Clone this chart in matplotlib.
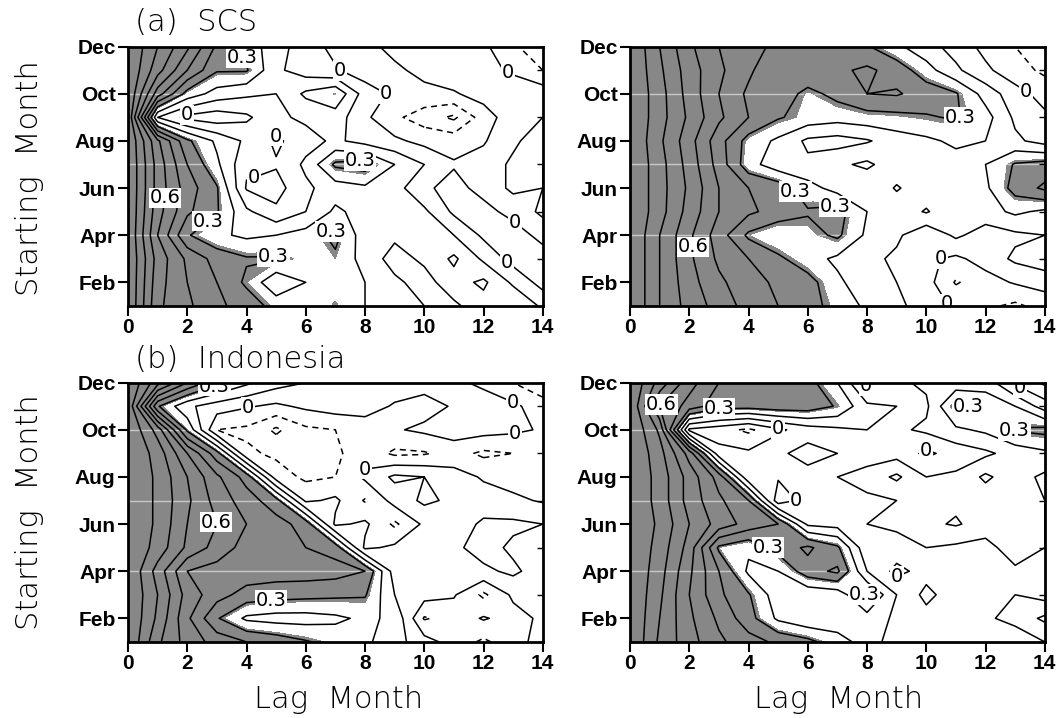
import numpy as np
import matplotlib
matplotlib.use('Agg')
import matplotlib.pyplot as plt

plt.rcParams['contour.negative_linestyle'] = 'dashed'
plt.rcParams['lines.dashed_pattern'] = [4.0, 3.0]

# lag (months) on x, starting month (Jan..Dec) on y
lags = list(range(15))
months = list(range(1, 13))
lag_ticks = [0, 2, 4, 6, 8, 10, 12, 14]
month_ticks = [2, 4, 6, 8, 10, 12]
month_names = ['Feb', 'Apr', 'Jun', 'Aug', 'Oct', 'Dec']
levels = [-0.3, -0.2, -0.1, 0.0, 0.1, 0.2, 0.3, 0.4, 0.5, 0.6, 0.7, 0.8, 0.9]
label_levels = [0.0, 0.3, 0.6]
shade_from = 0.28

# rows: Jan .. Dec ; columns: lag 0 .. 14
scs_left = [
    [1.00, 0.62, 0.52, 0.42, 0.36, 0.26, 0.22, 0.29, 0.20, 0.14, 0.10, 0.08, 0.16, 0.20, 0.08],
    [1.00, 0.64, 0.50, 0.40, 0.28, 0.12, 0.20, 0.24, 0.20, 0.12, 0.06, 0.16, 0.22, 0.08, -0.04],
    [1.00, 0.66, 0.48, 0.36, 0.31, 0.31, 0.26, 0.28, 0.16, 0.06, 0.12, 0.22, 0.08, -0.04, -0.06],
    [1.00, 0.60, 0.31, 0.22, 0.18, 0.20, 0.24, 0.33, 0.14, 0.12, 0.20, 0.10, -0.02, -0.06, 0.04],
    [1.00, 0.64, 0.42, 0.31, 0.12, 0.02, 0.10, 0.22, 0.16, 0.20, 0.12, -0.02, -0.04, 0.04, 0.12],
    [1.00, 0.66, 0.45, 0.31, -0.01, -0.04, 0.08, 0.15, 0.18, 0.14, 0.02, -0.04, 0.04, 0.12, 0.10],
    [1.00, 0.66, 0.40, 0.22, 0.02, 0.01, 0.12, 0.32, 0.35, 0.20, 0.10, 0.01, 0.04, 0.12, 0.10],
    [1.00, 0.62, 0.32, 0.18, 0.08, -0.02, 0.06, 0.12, 0.06, 0.02, -0.03, -0.04, -0.01, 0.08, 0.16],
    [1.00, 0.10, -0.03, -0.06, -0.02, 0.08, 0.12, 0.15, 0.02, -0.08, -0.15, -0.22, -0.05, 0.06, 0.10],
    [1.00, 0.55, 0.26, 0.16, 0.12, 0.10, 0.22, 0.285, 0.05, -0.02, -0.03, -0.01, 0.04, 0.08, 0.06],
    [1.00, 0.74, 0.50, 0.31, 0.31, 0.12, 0.05, 0.01, -0.05, -0.02, 0.03, 0.06, 0.04, -0.02, -0.10],
    [1.00, 0.80, 0.62, 0.38, 0.26, 0.14, 0.05, -0.03, -0.03, 0.03, 0.06, 0.05, 0.02, -0.08, -0.18],
]
scs_right = [
    [1.00, 0.80, 0.66, 0.56, 0.46, 0.40, 0.34, 0.26, 0.18, 0.12, 0.06, -0.02, -0.08, -0.12, -0.06],
    [1.00, 0.80, 0.64, 0.52, 0.44, 0.38, 0.34, 0.22, 0.14, 0.10, 0.04, -0.11, -0.04, 0.01, 0.04],
    [1.00, 0.80, 0.62, 0.48, 0.40, 0.32, 0.24, 0.18, 0.13, 0.08, 0.02, -0.02, 0.04, 0.12, 0.16],
    [1.00, 0.80, 0.62, 0.45, 0.28, 0.22, 0.26, 0.32, 0.18, 0.12, 0.02, 0.12, 0.05, 0.08, 0.10],
    [1.00, 0.84, 0.66, 0.50, 0.42, 0.36, 0.31, 0.34, 0.20, 0.14, 0.21, 0.12, 0.16, 0.22, 0.18],
    [1.00, 0.84, 0.68, 0.50, 0.40, 0.36, 0.24, 0.16, 0.12, 0.21, 0.14, 0.10, 0.18, 0.34, 0.42],
    [1.00, 0.84, 0.66, 0.46, 0.24, 0.14, 0.12, 0.18, 0.22, 0.14, 0.12, 0.16, 0.20, 0.31, 0.34],
    [1.00, 0.82, 0.64, 0.44, 0.26, 0.18, 0.08, 0.06, 0.09, 0.15, 0.18, 0.22, 0.20, 0.12, 0.06],
    [1.00, 0.84, 0.68, 0.52, 0.40, 0.31, 0.26, 0.24, 0.26, 0.27, 0.29, 0.31, 0.24, 0.08, 0.02],
    [1.00, 0.84, 0.66, 0.50, 0.38, 0.36, 0.27, 0.33, 0.40, 0.41, 0.36, 0.31, 0.16, 0.04, -0.04],
    [1.00, 0.82, 0.65, 0.52, 0.42, 0.31, 0.38, 0.38, 0.42, 0.36, 0.24, 0.12, 0.02, -0.06, -0.12],
    [1.00, 0.80, 0.62, 0.50, 0.43, 0.38, 0.36, 0.34, 0.31, 0.22, 0.14, 0.06, -0.03, -0.10, -0.15],
]
ind_left = [
    [1.00, 0.72, 0.56, 0.46, 0.40, 0.36, 0.31, 0.26, 0.22, 0.14, 0.04, -0.04, -0.12, -0.04, 0.04],
    [1.00, 0.78, 0.52, 0.31, 0.18, 0.16, 0.16, 0.18, 0.22, 0.18, -0.11, -0.06, 0.01, -0.04, 0.02],
    [1.00, 0.80, 0.56, 0.44, 0.36, 0.34, 0.33, 0.32, 0.31, 0.10, 0.04, 0.01, -0.12, 0.02, 0.05],
    [1.00, 0.76, 0.50, 0.46, 0.46, 0.45, 0.45, 0.44, 0.40, 0.05, 0.02, 0.04, 0.08, 0.12, 0.05],
    [1.00, 0.86, 0.68, 0.56, 0.46, 0.42, 0.40, 0.36, -0.02, 0.02, 0.04, 0.08, 0.14, 0.08, 0.02],
    [1.00, 0.88, 0.70, 0.60, 0.50, 0.44, 0.36, -0.02, 0.02, -0.12, 0.02, 0.04, 0.12, 0.12, 0.10],
    [1.00, 0.88, 0.72, 0.56, 0.45, 0.34, -0.02, 0.02, -0.11, 0.04, 0.12, 0.08, 0.04, 0.02, -0.01],
    [1.00, 0.88, 0.70, 0.52, 0.36, -0.05, -0.12, -0.10, 0.02, 0.12, 0.10, 0.04, -0.01, -0.04, -0.06],
    [1.00, 0.86, 0.60, 0.34, -0.08, -0.12, -0.20, -0.12, -0.04, -0.12, -0.11, -0.06, -0.12, -0.10, -0.06],
    [1.00, 0.76, 0.28, -0.10, -0.12, -0.22, -0.12, -0.10, -0.05, -0.01, 0.02, 0.05, 0.04, 0.02, -0.01],
    [1.00, 0.31, 0.12, 0.05, 0.01, -0.02, 0.02, 0.05, 0.04, -0.01, -0.04, 0.01, 0.05, 0.02, -0.05],
    [1.00, 0.74, 0.50, 0.33, 0.22, 0.14, 0.10, 0.07, 0.06, 0.05, 0.04, 0.02, -0.02, -0.10, -0.18],
]
ind_right = [
    [1.00, 0.78, 0.64, 0.52, 0.44, 0.38, 0.33, 0.24, 0.16, 0.04, 0.06, 0.08, 0.10, 0.02, 0.10],
    [1.00, 0.80, 0.62, 0.48, 0.34, 0.18, 0.12, 0.14, 0.16, 0.08, 0.04, 0.06, 0.08, 0.14, 0.22],
    [1.00, 0.82, 0.60, 0.42, 0.31, 0.14, 0.12, 0.14, 0.32, 0.10, -0.03, 0.06, 0.08, 0.10, 0.06],
    [1.00, 0.84, 0.62, 0.40, 0.18, 0.20, 0.36, 0.42, 0.10, -0.03, 0.04, 0.08, 0.10, 0.08, 0.10],
    [1.00, 0.86, 0.66, 0.28, 0.22, 0.34, 0.42, 0.32, 0.02, 0.06, 0.10, 0.08, 0.06, 0.16, 0.10],
    [1.00, 0.88, 0.70, 0.56, 0.46, 0.40, 0.08, 0.06, 0.10, 0.12, 0.18, 0.21, 0.16, 0.12, 0.10],
    [1.00, 0.86, 0.66, 0.52, 0.40, -0.06, 0.04, 0.01, 0.08, 0.10, 0.12, 0.18, 0.14, 0.12, 0.10],
    [1.00, 0.86, 0.66, 0.46, 0.02, 0.01, 0.06, 0.10, 0.14, 0.22, 0.10, 0.12, 0.22, 0.14, 0.08],
    [1.00, 0.84, 0.56, 0.04, 0.02, 0.08, 0.14, 0.10, 0.05, 0.06, -0.02, 0.04, 0.08, 0.14, 0.18],
    [1.00, 0.78, -0.02, -0.06, -0.12, -0.02, 0.05, 0.08, 0.10, 0.08, 0.12, 0.18, 0.22, 0.31, 0.33],
    [1.00, 0.60, 0.46, 0.34, 0.34, 0.36, 0.36, 0.29, 0.12, 0.10, 0.08, 0.33, 0.26, 0.20, 0.05],
    [1.00, 0.76, 0.54, 0.40, 0.38, 0.36, 0.34, 0.20, -0.03, 0.08, 0.12, 0.14, 0.16, -0.02, -0.12],
]

# where the contour labels sit (lag, month)
labels_scs_left = [(3.9, 11.6), (0.9, 5.6), (2.7, 4.6), (4.9, 3.1), (6.9, 4.05), (7.8, 7.2),
                   (2.0, 9.2), (7.0, 10.7), (5.0, 8.2), (4.0, 7.2), (9.0, 9.8), (13, 11.3),
                   (13, 4.5), (12, 1.6)]
labels_scs_right = [(1.9, 3.5), (5.9, 6.1), (6.9, 5.1), (11.9, 8.9), (13.1, 9.6), (10, 3.5),
                    (11, 1.3)]
labels_ind_left = [(2.9, 11.9), (4, 11.3), (8, 8.6), (13, 11.3), (13, 10.1), (3, 6.05),
                   (4.8, 3.4)]
labels_ind_right = [(1.0, 11.1), (2.9, 11.3), (5, 10.2), (8, 11.9), (12, 11.2), (13, 11.5),
                    (13, 10), (10, 9.1), (6.9, 7), (4.9, 5.5), (7.8, 3.05), (9, 3.5)]

tick_font = 'Liberation Sans'


def fmt(v):
    if abs(v) < 1e-6:
        return '0'
    return '%.1f' % v


def put_labels(ax, cs, spots):
    # snap each wanted spot onto the closest 0 / 0.3 / 0.6 line
    sx, sy = 29.7, 23.6   # pixels per lag / per month
    for (px, py) in spots:
        best = None
        for i, lev in enumerate(levels):
            if lev not in label_levels:
                continue
            for seg in cs.allsegs[i]:
                if len(seg) < 2:
                    continue
                # walk each piece of the line in small steps
                t = np.linspace(0, len(seg) - 1, (len(seg) - 1) * 12 + 1)
                xs = np.interp(t, np.arange(len(seg)), seg[:, 0])
                ys = np.interp(t, np.arange(len(seg)), seg[:, 1])
                d = ((xs - px) * sx) ** 2 + ((ys - py) * sy) ** 2
                k = int(np.argmin(d))
                if best is None or d[k] < best[0]:
                    best = (d[k], xs[k], ys[k], lev)
        if best is None:
            continue
        ax.text(best[1], best[2], fmt(best[3]), ha='center', va='center', fontsize=14,
                family='DejaVu Sans', zorder=5, clip_on=True,
                bbox=dict(facecolor='white', edgecolor='none', pad=0.5))


def panel(ax, z, label_pos):
    z = np.array(z)
    cf = ax.contourf(lags, months, z, levels=[shade_from, 2.0], colors=['#878787'])
    # faint lines that show only over the shading
    for yy in [4, 7, 10]:
        ln, = ax.plot([0, 14], [yy, yy], color='#c9c9c9', lw=1.0, zorder=1.5)
        ln.set_clip_path(cf.get_paths()[0], transform=ax.transData)
    cs = ax.contour(lags, months, z, levels=levels, colors='black', linewidths=1.1)
    put_labels(ax, cs, label_pos)
    ax.set_xlim(0, 14)
    ax.set_ylim(1, 12)
    ax.set_xticks(lag_ticks)
    ax.set_xticklabels([str(v) for v in lag_ticks], family=tick_font,
                       fontsize=15, fontweight='bold')
    ax.set_yticks(month_ticks)
    ax.set_yticklabels(month_names, family=tick_font, fontsize=15, fontweight='bold')
    ax.set_yticks(months, minor=True)
    ax.tick_params(axis='both', which='major', direction='out', length=7, width=1.5, pad=2)
    ax.tick_params(axis='y', which='minor', left=False, right=True, direction='in',
                   length=4, width=1)
    for s in ax.spines.values():
        s.set_linewidth(2)
        s.set_zorder(6)


fig = plt.figure(figsize=(10.58, 7.18), dpi=100)
w = 0.392
h = 0.361
ax1 = fig.add_axes([0.121, 0.574, w, h])
ax2 = fig.add_axes([0.5955, 0.574, w, h])
ax3 = fig.add_axes([0.121, 0.106, w, h])
ax4 = fig.add_axes([0.5955, 0.106, w, h])

panel(ax1, scs_left, labels_scs_left)
panel(ax2, scs_right, labels_scs_right)
panel(ax3, ind_left, labels_ind_left)
panel(ax4, ind_right, labels_ind_right)

lab = dict(fontsize=22, fontweight='light', family='DejaVu Sans')
fig.text(0.128, 0.968, '(a)  SCS', va='center', ha='left', **lab)
fig.text(0.128, 0.500, '(b)  Indonesia', va='center', ha='left', **lab)
fig.text(0.028, 0.752, 'Starting  Month', rotation=90, va='center', ha='center', **lab)
fig.text(0.028, 0.287, 'Starting  Month', rotation=90, va='center', ha='center', **lab)
fig.text(0.320, 0.026, 'Lag  Month', va='center', ha='center', **lab)
fig.text(0.793, 0.026, 'Lag  Month', va='center', ha='center', **lab)

fig.savefig('out.png', dpi=100)
